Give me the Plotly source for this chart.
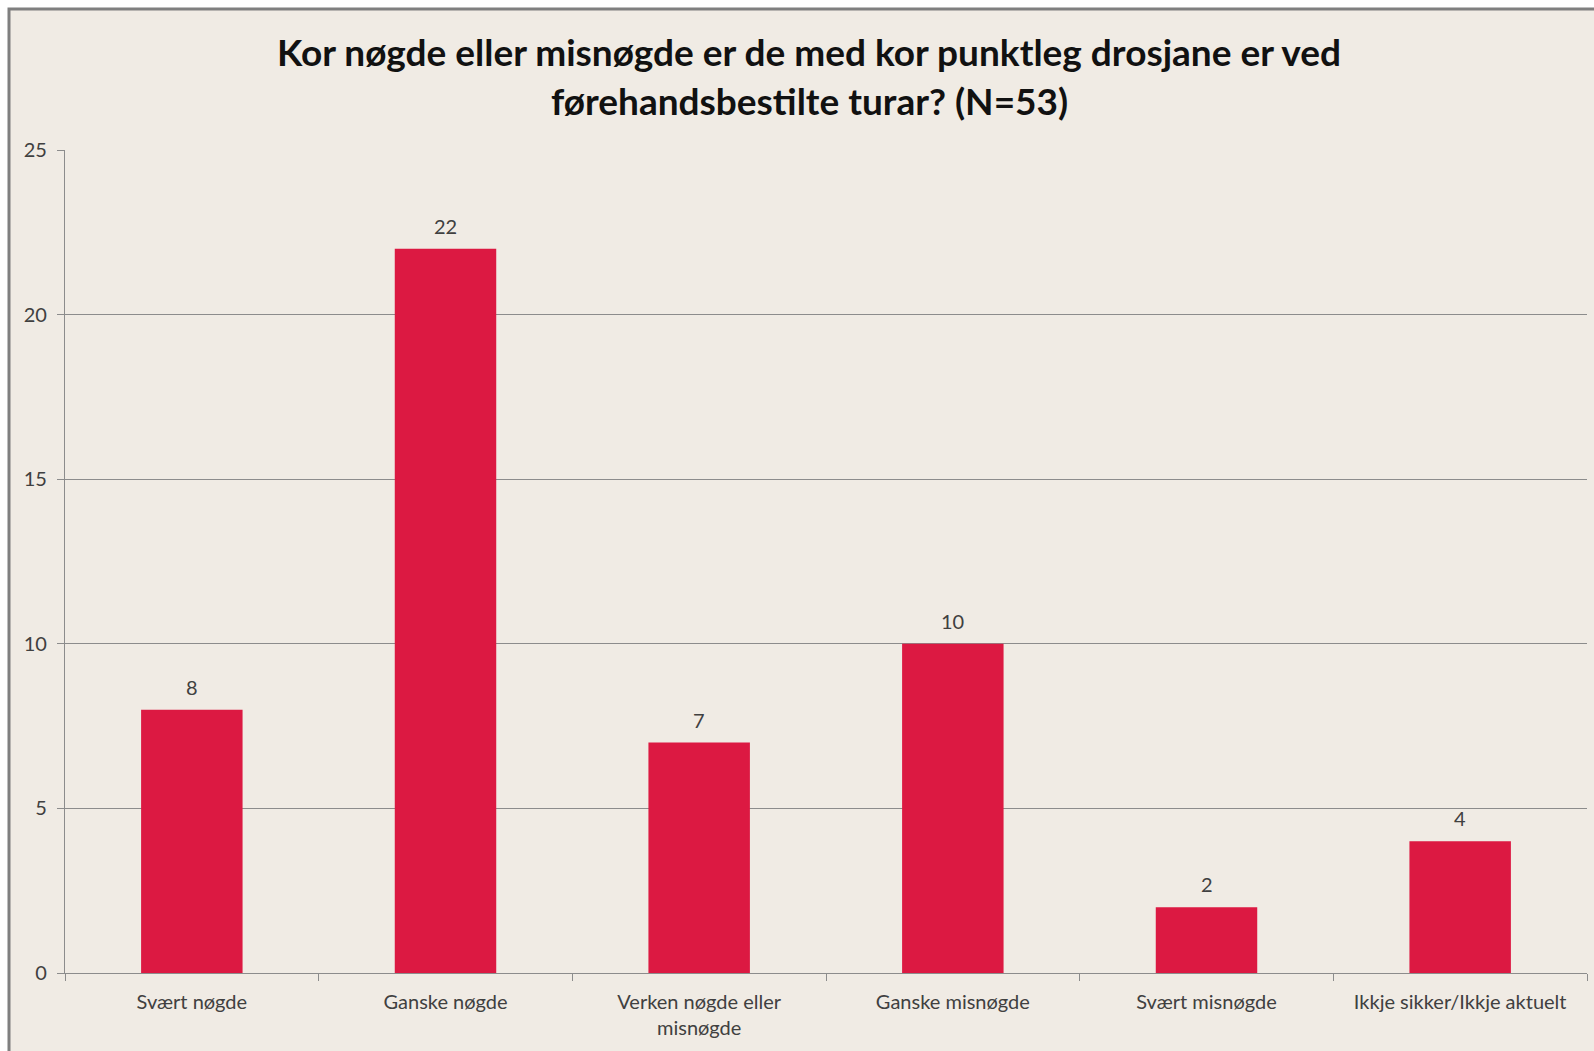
import plotly.graph_objects as go

categories = ["Svært nøgde", "Ganske nøgde", "Verken nøgde eller<br>misnøgde",
              "Ganske misnøgde", "Svært misnøgde", "Ikkje sikker/Ikkje aktuelt"]
values = [8, 22, 7, 10, 2, 4]
y_ticks = [0, 5, 10, 15, 20, 25]
title_lines = ["Kor nøgde eller misnøgde er de med kor punktleg drosjane er ved",
               "førehandsbestilte turar? (N=53)"]

BG = "#F0EBE4"
BAR = "#DC1942"
GRID = "#8C8C8C"
TXT = "#404040"
FONT = "Lato"

W, H = 1594, 1051
ml, mr, mt, mb = 65, 7, 150, 78
pw, ph = W - ml - mr, H - mt - mb

def px_x(x):
    return (x - ml) / pw

def px_y(y):
    return (H - mb - y) / ph

fig = go.Figure()
fig.add_trace(go.Bar(
    x=categories, y=values, marker=dict(color=BAR, line=dict(width=0)),
    hoverinfo="skip",
))

annotations = []
for c, v in zip(categories, values):
    annotations.append(dict(x=c, y=v, xref="x", yref="y", text=str(v), showarrow=False,
                            yanchor="middle", yshift=23,
                            font=dict(family=FONT, size=20, color=TXT)))
for line, ypix in zip(title_lines, [51, 100]):
    annotations.append(dict(x=px_x(809), y=px_y(ypix), xref="paper", yref="paper",
                            text="<b>" + line + "</b>", showarrow=False,
                            xanchor="center", yanchor="middle",
                            font=dict(family=FONT, size=37, color="#111111")))

fig.update_layout(
    width=W, height=H,
    margin=dict(l=ml, r=mr, t=mt, b=mb, pad=0),
    paper_bgcolor="white",
    plot_bgcolor=BG,
    bargap=0.6,
    showlegend=False,
    annotations=annotations,
    shapes=[dict(type="rect", xref="paper", yref="paper",
                 x0=px_x(9), x1=px_x(W + 20), y0=px_y(H + 20), y1=px_y(9),
                 fillcolor=BG, line=dict(color="#7F7F7F", width=3), layer="below")],
    xaxis=dict(
        showgrid=False, showline=True, linecolor=GRID, linewidth=1.3,
        ticks="outside", tickson="boundaries", ticklen=7, tickcolor=GRID,
        tickfont=dict(family=FONT, size=20, color=TXT), ticklabelstandoff=11,
        zeroline=False, fixedrange=True,
    ),
    yaxis=dict(
        range=[0, 25], tickvals=y_ticks, showgrid=True, gridcolor=GRID, gridwidth=1.3,
        showline=True, linecolor=GRID, linewidth=1.3, zeroline=False,
        ticks="outside", ticklen=7, tickcolor=GRID,
        tickfont=dict(family=FONT, size=20, color=TXT), ticklabelstandoff=6,
    ),
)

fig.write_html("out.html", config={"displayModeBar": False},
               post_script="document.body.style.margin='0';")
